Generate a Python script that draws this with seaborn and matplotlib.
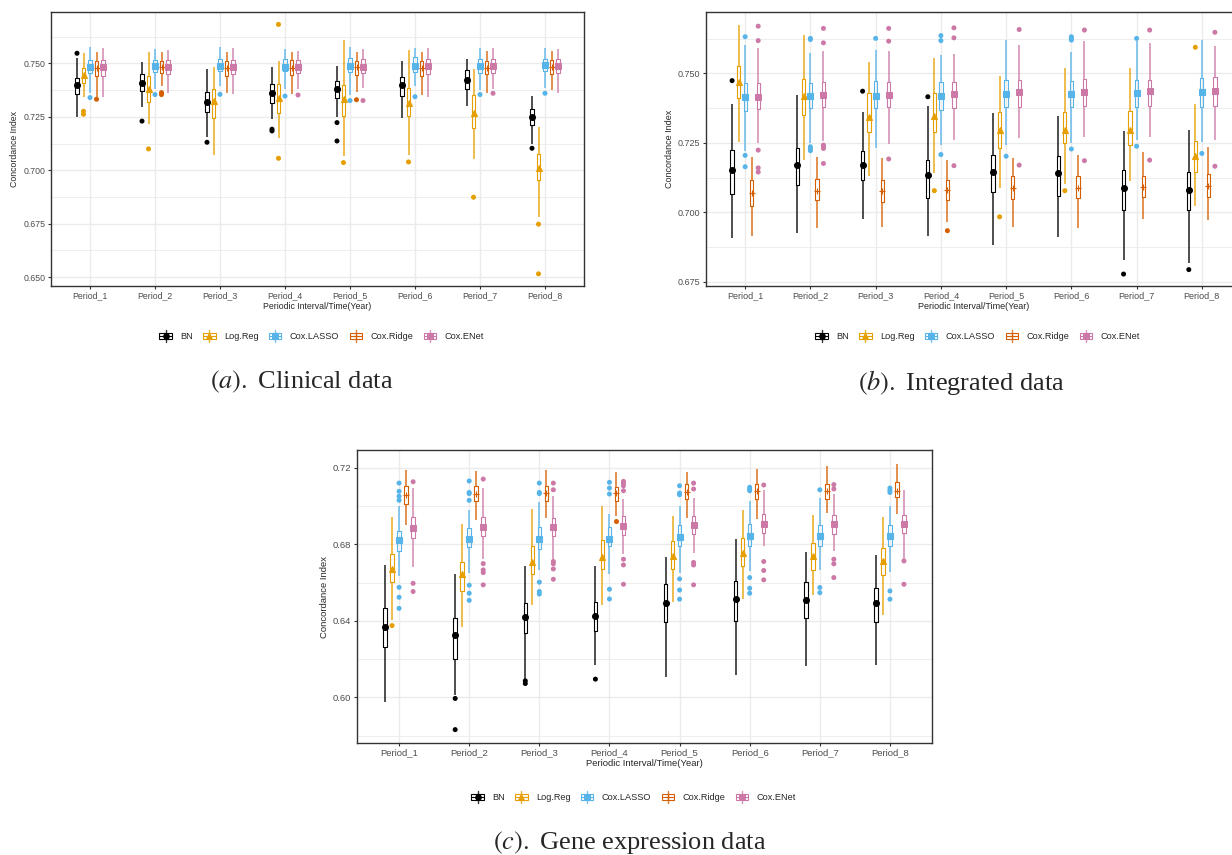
import numpy as np
import pandas as pd
import matplotlib
matplotlib.use("Agg")
import matplotlib.pyplot as plt
import seaborn as sns
from matplotlib.legend_handler import HandlerBase
from matplotlib.lines import Line2D
from matplotlib.patches import Rectangle
from matplotlib.ticker import FormatStrFormatter, MultipleLocator

# ---------------- data ----------------
PERIODS = [f"Period_{i}" for i in range(1, 9)]
METHODS = ["BN", "Log.Reg", "Cox.LASSO", "Cox.Ridge", "Cox.ENet"]
COLORS = ["#000000", "#E69F00", "#56B4E9", "#D55E00", "#CC79A7"]
MARKERS = ["o", "^", "s", "+", r"$\boxtimes$"]

# each tuple: (lower whisker, Q1, median, Q3, upper whisker) per period
# (a) Clinical data
CLIN_BN = [(0.7251, 0.7355, 0.7397, 0.7431, 0.7526), (0.7294, 0.7369, 0.7407, 0.7450, 0.7505),
           (0.7157, 0.7273, 0.7318, 0.7364, 0.7474), (0.7238, 0.7313, 0.7360, 0.7403, 0.7484),
           (0.7248, 0.7340, 0.7378, 0.7417, 0.7488), (0.7246, 0.7349, 0.7399, 0.7435, 0.7511),
           (0.7300, 0.7379, 0.7422, 0.7469, 0.7520), (0.7123, 0.7212, 0.7248, 0.7285, 0.7349)]
CLIN_LR = [(0.7344, 0.7410, 0.7444, 0.7478, 0.7550), (0.7217, 0.7319, 0.7378, 0.7441, 0.7555),
           (0.7072, 0.7246, 0.7322, 0.7379, 0.7484), (0.7150, 0.7270, 0.7336, 0.7403, 0.7511),
           (0.7067, 0.7255, 0.7332, 0.7399, 0.7609), (0.7072, 0.7255, 0.7316, 0.7383, 0.7562),
           (0.7051, 0.7198, 0.7266, 0.7350, 0.7474), (0.6783, 0.6955, 0.7009, 0.7076, 0.7204)]
CLIN_LASSO = [(0.7363, 0.7453, 0.7484, 0.7516, 0.7575), (0.7380, 0.7458, 0.7489, 0.7516, 0.7565),
              (0.7394, 0.7464, 0.7489, 0.7519, 0.7575), (0.7378, 0.7464, 0.7484, 0.7522, 0.7565),
              (0.7352, 0.7461, 0.7489, 0.7523, 0.7575), (0.7394, 0.7461, 0.7489, 0.7528, 0.7570),
              (0.7375, 0.7456, 0.7489, 0.7522, 0.7570), (0.7383, 0.7466, 0.7494, 0.7522, 0.7570)]
CLIN_RIDGE = [(0.7344, 0.7441, 0.7480, 0.7512, 0.7555), (0.7394, 0.7455, 0.7484, 0.7509, 0.7555),
              (0.7363, 0.7442, 0.7480, 0.7511, 0.7555), (0.7357, 0.7444, 0.7480, 0.7516, 0.7553),
              (0.7366, 0.7444, 0.7484, 0.7512, 0.7553), (0.7352, 0.7439, 0.7480, 0.7511, 0.7553),
              (0.7363, 0.7450, 0.7480, 0.7511, 0.7558), (0.7375, 0.7450, 0.7484, 0.7516, 0.7559)]
CLIN_ENET = [(0.7344, 0.7442, 0.7481, 0.7514, 0.7570), (0.7360, 0.7450, 0.7484, 0.7514, 0.7562),
             (0.7357, 0.7450, 0.7484, 0.7514, 0.7570), (0.7378, 0.7453, 0.7484, 0.7516, 0.7559),
             (0.7383, 0.7453, 0.7484, 0.7519, 0.7565), (0.7344, 0.7450, 0.7488, 0.7520, 0.7570),
             (0.7382, 0.7456, 0.7488, 0.7519, 0.7570), (0.7363, 0.7453, 0.7488, 0.7520, 0.7567)]
CLIN_BN_OUT = [[0.7547], [0.7230], [0.7131], [0.7192, 0.7184], [0.7223, 0.7137], [], [], [0.7103]]
CLIN_LR_OUT = [[0.7276, 0.7262], [0.7100], [], [0.7682, 0.7056], [0.7036], [0.7039], [0.6874], [0.6748, 0.6516]]
CLIN_LASSO_OUT = [[0.7340], [0.7354], [0.7355], [0.7347], [0.7326], [0.7344], [0.7354], [0.7360]]
CLIN_RIDGE_OUT = [[0.7332], [0.7363, 0.7354], [], [], [0.7330], [], [], []]
CLIN_ENET_OUT = [[], [], [], [0.7352], [0.7326], [], [0.7360], []]

# (b) Integrated data
INT_BN = [(0.6906, 0.7066, 0.7154, 0.7226, 0.7390), (0.6924, 0.7097, 0.7172, 0.7230, 0.7422),
          (0.6976, 0.7115, 0.7172, 0.7222, 0.7362), (0.6914, 0.7051, 0.7134, 0.7188, 0.7382),
          (0.6884, 0.7072, 0.7144, 0.7208, 0.7356), (0.6910, 0.7060, 0.7140, 0.7204, 0.7348),
          (0.6828, 0.7008, 0.7086, 0.7152, 0.7294), (0.6816, 0.7010, 0.7080, 0.7146, 0.7298)]
INT_LR = [(0.7254, 0.7412, 0.7470, 0.7528, 0.7676), (0.7188, 0.7350, 0.7418, 0.7481, 0.7638),
          (0.7132, 0.7290, 0.7344, 0.7428, 0.7540), (0.7142, 0.7290, 0.7346, 0.7428, 0.7554),
          (0.7088, 0.7230, 0.7296, 0.7362, 0.7490), (0.7102, 0.7248, 0.7296, 0.7360, 0.7518),
          (0.7112, 0.7244, 0.7298, 0.7364, 0.7520), (0.7024, 0.7144, 0.7204, 0.7256, 0.7390)]
INT_LASSO = [(0.7222, 0.7364, 0.7414, 0.7466, 0.7602), (0.7248, 0.7374, 0.7418, 0.7464, 0.7574),
             (0.7232, 0.7374, 0.7420, 0.7474, 0.7584), (0.7244, 0.7368, 0.7420, 0.7468, 0.7566),
             (0.7244, 0.7378, 0.7426, 0.7476, 0.7620), (0.7250, 0.7378, 0.7426, 0.7472, 0.7578),
             (0.7260, 0.7380, 0.7430, 0.7478, 0.7618), (0.7254, 0.7380, 0.7432, 0.7482, 0.7620)]
INT_RIDGE = [(0.6914, 0.7024, 0.7070, 0.7115, 0.7200), (0.6942, 0.7044, 0.7078, 0.7120, 0.7200),
             (0.6948, 0.7039, 0.7078, 0.7115, 0.7196), (0.6966, 0.7046, 0.7082, 0.7118, 0.7188),
             (0.6948, 0.7048, 0.7086, 0.7130, 0.7194), (0.6942, 0.7050, 0.7088, 0.7130, 0.7206),
             (0.6976, 0.7054, 0.7092, 0.7130, 0.7218), (0.6972, 0.7054, 0.7096, 0.7138, 0.7236)]
INT_ENET = [(0.7250, 0.7372, 0.7416, 0.7464, 0.7590), (0.7258, 0.7378, 0.7422, 0.7468, 0.7580),
            (0.7246, 0.7378, 0.7424, 0.7468, 0.7580), (0.7262, 0.7374, 0.7426, 0.7468, 0.7570),
            (0.7266, 0.7380, 0.7432, 0.7476, 0.7604), (0.7270, 0.7382, 0.7434, 0.7480, 0.7618),
            (0.7272, 0.7382, 0.7436, 0.7478, 0.7610), (0.7262, 0.7382, 0.7438, 0.7488, 0.7600)]
INT_BN_OUT = [[0.7474], [], [0.7436], [0.7416], [], [], [0.6778], [0.6794]]
INT_LR_OUT = [[], [], [], [0.7078], [0.6984], [0.7078], [], [0.7594]]
INT_LASSO_OUT = [[0.7632, 0.7205, 0.7164], [0.7626, 0.7622, 0.7236, 0.7228, 0.7222], [0.7626],
                 [0.7636, 0.7618, 0.7208], [0.7202], [0.7632, 0.7626, 0.7620, 0.7228],
                 [0.7626, 0.7238], [0.7212]]
INT_RIDGE_OUT = [[], [], [], [0.6934], [], [], [], []]
INT_ENET_OUT = [[0.7670, 0.7618, 0.7224, 0.7160, 0.7145], [0.7662, 0.7610, 0.7242, 0.7236, 0.7230, 0.7176],
                [0.7662, 0.7616, 0.7192], [0.7664, 0.7628, 0.7168], [0.7658, 0.7170],
                [0.7656, 0.7186], [0.7656, 0.7188], [0.7648, 0.7166]]

# (c) Gene expression data
GENE_BN = [(0.5977, 0.6262, 0.6367, 0.6466, 0.6693), (0.6012, 0.6199, 0.6325, 0.6417, 0.6646),
           (0.6094, 0.6339, 0.6421, 0.6496, 0.6685), (0.6169, 0.6348, 0.6426, 0.6501, 0.6685),
           (0.6105, 0.6397, 0.6493, 0.6592, 0.6737), (0.6117, 0.6400, 0.6514, 0.6610, 0.6830),
           (0.6166, 0.6414, 0.6510, 0.6603, 0.6763), (0.6168, 0.6394, 0.6493, 0.6573, 0.6746)]
GENE_LR = [(0.6405, 0.6606, 0.6671, 0.6749, 0.6943), (0.6370, 0.6559, 0.6646, 0.6707, 0.6908),
           (0.6484, 0.6648, 0.6706, 0.6792, 0.6987), (0.6484, 0.6672, 0.6737, 0.6822, 0.6999),
           (0.6498, 0.6671, 0.6741, 0.6819, 0.6947), (0.6514, 0.6685, 0.6755, 0.6833, 0.6978),
           (0.6536, 0.6667, 0.6741, 0.6807, 0.6952), (0.6431, 0.6641, 0.6714, 0.6784, 0.6943)]
GENE_LASSO = [(0.6636, 0.6767, 0.6824, 0.6872, 0.6999), (0.6653, 0.6786, 0.6831, 0.6886, 0.6978),
              (0.6667, 0.6776, 0.6830, 0.6889, 0.7022), (0.6646, 0.6790, 0.6830, 0.6891, 0.6961),
              (0.6653, 0.6793, 0.6838, 0.6901, 0.6999), (0.6662, 0.6793, 0.6842, 0.6907, 0.7025),
              (0.6667, 0.6790, 0.6842, 0.6900, 0.7043), (0.6655, 0.6793, 0.6842, 0.6901, 0.6999)]
GENE_RIDGE = [(0.6900, 0.7011, 0.7060, 0.7104, 0.7191), (0.6929, 0.7029, 0.7064, 0.7107, 0.7186),
              (0.6941, 0.7029, 0.7069, 0.7104, 0.7191), (0.6950, 0.7029, 0.7069, 0.7099, 0.7181),
              (0.6938, 0.7038, 0.7074, 0.7116, 0.7179), (0.6933, 0.7039, 0.7078, 0.7118, 0.7195),
              (0.6964, 0.7039, 0.7081, 0.7118, 0.7209), (0.6959, 0.7048, 0.7081, 0.7125, 0.7223)]
GENE_ENET = [(0.6681, 0.6833, 0.6886, 0.6943, 0.7095), (0.6725, 0.6845, 0.6894, 0.6943, 0.7095),
             (0.6722, 0.6842, 0.6891, 0.6938, 0.7055), (0.6751, 0.6851, 0.6898, 0.6947, 0.7038),
             (0.6755, 0.6856, 0.6903, 0.6947, 0.7045), (0.6790, 0.6859, 0.6908, 0.6961, 0.7086),
             (0.6767, 0.6854, 0.6907, 0.6952, 0.7066), (0.6720, 0.6859, 0.6907, 0.6954, 0.7086)]
GENE_BN_OUT = [[], [0.5995, 0.5832], [0.6087, 0.6073], [0.6096], [], [], [], []]
GENE_LR_OUT = [[0.6376], [], [], [], [], [], [], []]
GENE_LASSO_OUT = [[0.7121, 0.7078, 0.7052, 0.7031, 0.6576, 0.6524, 0.6466],
                  [0.7132, 0.7072, 0.7066, 0.7031, 0.6587, 0.6545, 0.6508],
                  [0.7121, 0.7072, 0.7066, 0.6603, 0.6554, 0.6541],
                  [0.7125, 0.7095, 0.7064, 0.6566, 0.6515],
                  [0.7107, 0.7069, 0.7060, 0.6620, 0.6562, 0.6514],
                  [0.7099, 0.7090, 0.7081, 0.6627, 0.6571, 0.6545],
                  [0.7086, 0.6575, 0.6548],
                  [0.7095, 0.7083, 0.7072, 0.6557, 0.6514]]
GENE_RIDGE_OUT = [[], [], [], [0.6920], [], [], [], []]
GENE_ENET_OUT = [[0.7128, 0.6597, 0.6554], [0.7142, 0.6700, 0.6667, 0.6653, 0.6589],
                 [0.7121, 0.7086, 0.6711, 0.6699, 0.6672, 0.6618],
                 [0.7130, 0.7121, 0.7107, 0.7081, 0.6723, 0.6693, 0.6592],
                 [0.7121, 0.7090, 0.6706, 0.6693, 0.6589], [0.7111, 0.6711, 0.6664, 0.6615],
                 [0.7113, 0.7090, 0.6723, 0.6699, 0.6627], [0.6714, 0.6592]]

CLIN_TICKS = [0.650, 0.675, 0.700, 0.725, 0.750]
INT_TICKS = [0.675, 0.700, 0.725, 0.750]
GENE_TICKS = [0.60, 0.64, 0.68, 0.72]
CAPTIONS = ["(a).", "(b).", "(c)."]
CAPTION_TEXT = ["Clinical data", "Integrated data", "Gene expression data"]


def long_box(stats_list):
    rows = []
    for m, stats in zip(METHODS, stats_list):
        for p, s in zip(PERIODS, stats):
            for v in s:
                rows.append((p, m, v))
    return pd.DataFrame(rows, columns=["Period", "Method", "value"])


def long_out(out_list):
    rows = []
    for mi, (m, outs) in enumerate(zip(METHODS, out_list)):
        for pi, (p, vals) in enumerate(zip(PERIODS, outs)):
            for v in vals:
                rows.append((p, m, pi + (mi - 2) * 0.1, v))
    return pd.DataFrame(rows, columns=["Period", "Method", "xpos", "value"])


# ---------------- style ----------------
sns.set_style("white")
plt.rcParams["font.family"] = ["Liberation Sans", "DejaVu Sans"]

fig = plt.figure(figsize=(12.32, 8.55), dpi=100)
W, H = 1232, 855


def add_axes(l, t, r, b):
    return fig.add_axes([l / W, 1 - b / H, (r - l) / W, (b - t) / H])


panels = [
    dict(ax=add_axes(51, 12, 584, 286), box=[CLIN_BN, CLIN_LR, CLIN_LASSO, CLIN_RIDGE, CLIN_ENET],
         out=[CLIN_BN_OUT, CLIN_LR_OUT, CLIN_LASSO_OUT, CLIN_RIDGE_OUT, CLIN_ENET_OUT],
         ylim=(0.6459, 0.7740), ticks=CLIN_TICKS, fmt="%.3f", minor=0.0125, fs=6.3,
         leg=(321, 336), cap=(302, 382)),
    dict(ax=add_axes(706, 12, 1241, 286), box=[INT_BN, INT_LR, INT_LASSO, INT_RIDGE, INT_ENET],
         out=[INT_BN_OUT, INT_LR_OUT, INT_LASSO_OUT, INT_RIDGE_OUT, INT_ENET_OUT],
         ylim=(0.6735, 0.7721), ticks=INT_TICKS, fmt="%.3f", minor=0.0125, fs=6.5,
         leg=(977, 336), cap=(961, 382)),
    dict(ax=add_axes(357, 450, 932, 743), box=[GENE_BN, GENE_LR, GENE_LASSO, GENE_RIDGE, GENE_ENET],
         out=[GENE_BN_OUT, GENE_LR_OUT, GENE_LASSO_OUT, GENE_RIDGE_OUT, GENE_ENET_OUT],
         ylim=(0.5762, 0.7294), ticks=GENE_TICKS, fmt="%.2f", minor=0.02, fs=6.8,
         leg=(633, 797), cap=(630, 842)),
]


class KeyProxy:
    def __init__(self, color, marker):
        self.color = color
        self.marker = marker


class BoxKey(HandlerBase):
    def create_artists(self, legend, orig, xd, yd, w, h, fs, trans):
        c, m = orig.color, orig.marker
        x0, y0 = -xd, -yd
        cx, cy = x0 + w / 2, y0 + h / 2
        return [
            Line2D([cx, cx], [y0, y0 + h], color=c, lw=1.0, alpha=0.8, transform=trans),
            Rectangle((x0 + 0.08 * w, y0 + 0.22 * h), 0.84 * w, 0.56 * h, fill=False,
                      ec=c, lw=0.8, transform=trans),
            Line2D([x0 + 0.08 * w, x0 + 0.92 * w], [cy, cy], color=c, lw=0.8, transform=trans),
            Line2D([cx], [cy], marker=m, color=c, ms=4.0, mew=0.8, ls="none", transform=trans),
        ]


for i, P in enumerate(panels):
    ax = P["ax"]
    df = long_box(P["box"])
    od = long_out(P["out"])
    sns.boxplot(data=df, x="Period", y="value", hue="Method", order=PERIODS, hue_order=METHODS,
                palette=COLORS, width=0.5, gap=0.5, fill=False, whis=(0, 100),
                showfliers=False, showcaps=False, linewidth=0.8,
                whiskerprops=dict(linewidth=1.3, alpha=0.75), legend=False, ax=ax)
    sns.pointplot(data=df, x="Period", y="value", hue="Method", order=PERIODS, hue_order=METHODS,
                  palette=COLORS, estimator="median", errorbar=None, markers=MARKERS,
                  linestyles=["none"] * 5, dodge=0.4, markersize=4.2, markeredgewidth=0.8,
                  legend=False, ax=ax)
    sns.scatterplot(data=od, x="xpos", y="value", hue="Method", hue_order=METHODS,
                    palette=COLORS, s=13, edgecolor="none", linewidth=0, legend=False,
                    ax=ax, zorder=3)

    ax.set_xlim(-0.6, 7.6)
    ax.set_ylim(*P["ylim"])
    ax.set_xticks(range(8))
    ax.set_xticklabels(PERIODS)
    ax.set_yticks(P["ticks"])
    ax.yaxis.set_major_formatter(FormatStrFormatter(P["fmt"]))
    ax.yaxis.set_minor_locator(MultipleLocator(P["minor"]))
    ax.set_axisbelow(True)
    ax.grid(which="major", axis="both", color="#EBEBEB", lw=1.0)
    ax.grid(which="minor", axis="y", color="#EBEBEB", lw=0.6)
    ax.xaxis.grid(True, which="major", color="#EBEBEB", lw=1.0)
    ax.tick_params(which="major", length=2.5, width=0.8, color="#333333",
                   labelcolor="#4D4D4D", labelsize=P["fs"], pad=1.5, left=True, bottom=True)
    ax.tick_params(which="minor", length=0, left=False)
    for sp in ax.spines.values():
        sp.set_color("#333333")
        sp.set_linewidth(1.0)
    ax.set_xlabel("Periodic Interval/Time(Year)", fontsize=P["fs"], labelpad=1.0)
    ax.set_ylabel("Concordance Index", fontsize=P["fs"], labelpad=3.0)

    handles = [KeyProxy(c, m) for c, m in zip(COLORS, MARKERS)]
    fig.legend(handles, METHODS, handler_map={KeyProxy: BoxKey()}, loc="center",
               bbox_to_anchor=(P["leg"][0] / W, 1 - P["leg"][1] / H), ncol=5, frameon=False,
               fontsize=6.6, handlelength=1.6, handleheight=1.6, handletextpad=0.8,
               columnspacing=1.0, borderpad=0.2)

    fig.text(P["cap"][0] / W, 1 - P["cap"][1] / H,
             r"$\mathit{" + CAPTIONS[i] + r"}$ " + CAPTION_TEXT[i],
             family="Liberation Serif", math_fontfamily="stix", fontsize=19,
             ha="center", va="center")

fig.savefig("out.png", dpi=100)
